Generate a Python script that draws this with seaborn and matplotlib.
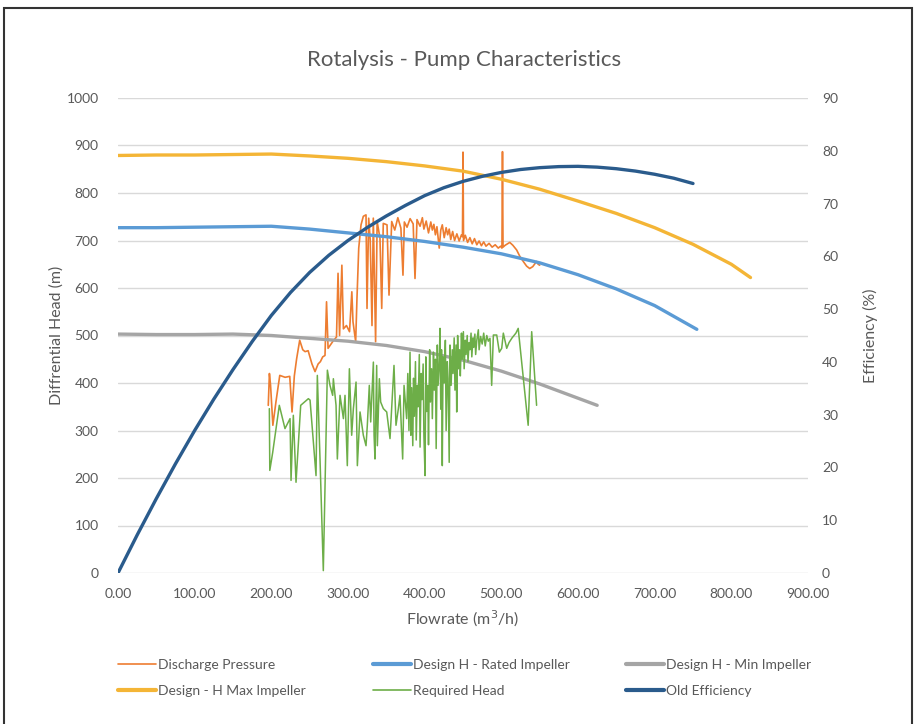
import matplotlib
matplotlib.use("Agg")
import pandas as pd
import seaborn as sns
import matplotlib.pyplot as plt
from matplotlib.patches import Rectangle
from matplotlib.lines import Line2D

# --- data ---
max_flow = [0, 50, 100, 150, 200, 250, 300, 350, 400, 450, 500, 550, 600, 650, 700, 750, 800, 825]
max_head = [879, 880, 880, 881, 882, 878, 873, 866, 857, 846, 829, 808, 783, 757, 727, 692, 650, 622]

rated_flow = [0, 50, 100, 150, 200, 250, 300, 350, 400, 450, 500, 550, 600, 650, 700, 755]
rated_head = [727, 727, 728, 729, 730, 724, 716, 708, 698, 686, 672, 653, 628, 598, 563, 513]

min_flow = [0, 50, 100, 150, 200, 250, 300, 350, 400, 450, 500, 550, 600, 625]
min_head = [503, 502, 502, 503, 500, 494, 488, 479, 466, 448, 425, 398, 368, 353]

eff_flow = [0, 25, 50, 75, 100, 125, 150, 175, 200, 225,
            250, 275, 300, 325, 350, 375, 400, 425, 450, 475,
            500, 525, 550, 575, 600, 625, 650, 675, 700, 725, 750]
eff_pct = [0, 7.2, 14.1, 20.7, 27.0, 32.95, 38.55, 43.85, 48.8, 53.15,
           56.95, 60.2, 63.0, 65.45, 67.65, 69.65, 71.5, 73.0, 74.2, 75.15,
           75.9, 76.45, 76.8, 77.0, 77.05, 76.9, 76.6, 76.15, 75.55, 74.8, 73.8]

discharge_flow = [196, 197.5, 199, 202, 206, 211, 218, 224, 227, 230,
                  233, 237, 241, 244, 248, 253, 257, 261, 264, 267,
                  270, 272, 274, 280, 285, 287, 289, 292, 294, 298,
                  302, 305, 306.5, 310, 311.7, 314, 317, 320, 323.5, 324.8,
                  327, 329, 331.3, 333, 336, 338, 341.7, 344, 346, 350.9,
                  353.5, 357, 361, 365, 369, 371.7, 373.5, 377, 381, 385,
                  387.4, 390, 394, 397, 399, 402, 405, 408, 410, 412,
                  414, 416, 419, 421, 423, 425.5, 428, 430, 432, 434,
                  436.5, 439, 442, 445, 448, 449.3, 450, 450.7, 453, 456,
                  459, 462, 465, 468, 471, 474, 477, 480, 484, 488,
                  492, 496, 499, 500.8, 501.5, 502.2, 505, 511, 515, 520,
                  524, 529, 533, 537, 541, 546, 548, 550]
discharge_head = [353, 420, 395, 311, 360, 416, 412, 414, 339, 415,
                  451, 490, 470, 466, 468, 440, 424, 440, 445, 455,
                  458, 571, 473, 487, 497, 631, 500, 648, 514, 521,
                  508, 592, 529, 487, 578, 684, 733, 751, 754, 557,
                  747, 700, 521, 747, 487, 740, 705, 557, 736, 733,
                  585, 740, 722, 748, 726, 627, 739, 728, 746, 735,
                  620, 744, 730, 748, 724, 741, 716, 739, 722, 734,
                  712, 729, 684, 722, 733, 706, 727, 712, 724, 702,
                  719, 700, 714, 699, 712, 708, 886, 700, 711, 696,
                  706, 693, 704, 691, 699, 689, 697, 688, 694, 686,
                  691, 684, 688, 684, 887, 686, 690, 696, 690, 680,
                  667, 655, 646, 641, 645, 656, 650, 648]

required_flow = [197.4, 198, 201.8, 210.4, 217.8, 224.4, 225.7, 228.7, 232.2, 238.3,
                 248.3, 250.5, 258.3, 260, 263.5, 267.8, 273.1, 276.5, 280, 280.9,
                 284.4, 286.1, 289.6, 294, 296.1, 299.1, 301.8, 304.8, 307, 310.5,
                 312.2, 315.7, 320, 323.5, 325.2, 327.8, 329.6, 333.1, 334, 335.2,
                 337.4, 338.3, 340.9, 342.6, 346.1, 350.5, 352.6, 354.8, 358.3, 360,
                 362.6, 365.7, 367.8, 371.3, 373.1, 376.5, 378, 379.5, 380.9, 382,
                 383.1, 384.5, 385.5, 386.5, 388, 389, 390.5, 391.5, 393, 394,
                 395.5, 396.5, 398, 399, 400.5, 401.5, 402.5, 404, 405, 406.5,
                 407.5, 409, 410, 411.5, 412.5, 414, 415, 416.5, 417.5, 419,
                 420, 421, 422, 423, 424, 425.5, 427, 428, 429.5, 430.5,
                 432, 433, 434.5, 436, 437, 438.5, 439.5, 441, 441.8, 443,
                 444, 445.5, 446.5, 448, 449, 450.5, 451.5, 453, 454, 455.5,
                 456.5, 458, 459, 460.5, 461.5, 463, 464, 465.5, 466.5, 468,
                 470, 471, 473, 475, 477, 479, 481, 483, 485.2, 487.4,
                 489.6, 494, 497.4, 500.5, 502.6, 507, 510, 514, 519, 522,
                 535, 539.6, 546]
required_head = [346, 216, 254, 353, 304, 325, 195, 332, 191, 353,
                 367, 364, 205, 416, 240, 5, 427, 395, 374, 409,
                 353, 240, 374, 325, 374, 226, 430, 290, 346, 402,
                 226, 339, 290, 268, 311, 395, 318, 444, 290, 240,
                 437, 268, 409, 360, 346, 339, 311, 283, 388, 437,
                 311, 346, 374, 240, 395, 325, 420, 300, 465, 290,
                 390, 268, 410, 330, 445, 280, 395, 350, 460, 265,
                 420, 365, 440, 290, 205, 455, 340, 395, 270, 470,
                 360, 430, 325, 465, 385, 450, 262, 480, 395, 440,
                 515, 345, 470, 226, 455, 400, 490, 300, 445, 410,
                 233, 480, 395, 470, 420, 495, 385, 480, 339, 500,
                 430, 470, 415, 505, 450, 508, 430, 490, 460, 500,
                 445, 485, 470, 505, 455, 495, 475, 503, 460, 490,
                 512, 470, 498, 482, 505, 478, 500, 488, 494, 395,
                 501, 501, 465, 473, 505, 473, 485, 495, 505, 515,
                 311, 508, 353]

flow_ticks = [0, 100, 200, 300, 400, 500, 600, 700, 800, 900]
head_ticks = [0, 100, 200, 300, 400, 500, 600, 700, 800, 900, 1000]
eff_ticks = [0, 10, 20, 30, 40, 50, 60, 70, 80, 90]

c_orange = "#ED7D31"
c_blue = "#5B9BD5"
c_gray = "#A5A5A5"
c_gold = "#F4B536"
c_green = "#6DAE48"
c_navy = "#2A5B8C"
txt = "#595959"

sns.set_style("white")
plt.rcParams["font.family"] = ["Lato", "DejaVu Sans"]

fig = plt.figure(figsize=(9.15, 7.24), dpi=100)
ax = fig.add_axes([118 / 915, 1 - 573 / 724, 690 / 915, 475 / 724])
ax2 = ax.twinx()

series = [
    (ax, discharge_flow, discharge_head, c_orange, 1.2),
    (ax, rated_flow, rated_head, c_blue, 2.4),
    (ax, min_flow, min_head, c_gray, 2.4),
    (ax, max_flow, max_head, c_gold, 2.4),
    (ax, required_flow, required_head, c_green, 1.1),
    (ax2, eff_flow, eff_pct, c_navy, 2.4),
]
for target, xs, ys, col, lw in series:
    df = pd.DataFrame({"x": xs, "y": ys})
    sns.lineplot(data=df, x="x", y="y", ax=target, estimator=None, sort=False,
                 color=col, lw=lw, legend=False)

ax.set_xlim(0, 900)
ax.set_ylim(0, 1000)
ax2.set_ylim(0, 90)
ax.set_xticks(flow_ticks)
ax.set_xticklabels([f"{v:.2f}" for v in flow_ticks])
ax.set_yticks(head_ticks)
ax2.set_yticks(eff_ticks)
ax.yaxis.grid(True, color="#D9D9D9", lw=1.0)
ax.set_axisbelow(True)
for a in (ax, ax2):
    for s in a.spines.values():
        s.set_visible(False)
ax.tick_params(axis="both", length=0, labelsize=10, labelcolor=txt)
ax.tick_params(axis="x", pad=11)
ax.tick_params(axis="y", pad=14)
ax2.tick_params(axis="y", length=0, labelsize=10, labelcolor=txt, pad=10)

ax.set_xlabel("Flowrate (m$^3$/h)", fontsize=11.5, color=txt)
ax.set_ylabel("Diffrential Head (m)", fontsize=11.5, color=txt)
ax2.set_ylabel("Efficiency (%)", fontsize=11.5, color=txt)
ax.xaxis.set_label_coords(0.5, -0.075)
ax.yaxis.set_label_coords(-0.078, 0.5)
ax2.yaxis.set_label_coords(1.08, 0.5)

fig.text(464 / 915, 1 - 60 / 724, "Rotalysis - Pump Characteristics",
         ha="center", va="center", fontsize=16, color=txt)

legend_cols = [
    (118, [("Discharge Pressure", c_orange, 1.2), ("Design - H Max Impeller", c_gold, 3)]),
    (373, [("Design H - Rated Impeller", c_blue, 3), ("Required Head", c_green, 1.2)]),
    (626, [("Design H - Min Impeller", c_gray, 3), ("Old Efficiency", c_navy, 3)]),
]
for x0, entries in legend_cols:
    handles = [Line2D([], [], color=c, lw=w) for _, c, w in entries]
    labels = [n for n, _, _ in entries]
    fig.legend(handles, labels, loc="upper left", bbox_to_anchor=(x0 / 915, 1 - 659 / 724),
               frameon=False, fontsize=10, labelcolor=txt, handlelength=2.7,
               handletextpad=0.2, labelspacing=1.0, borderpad=0, borderaxespad=0)

fig.add_artist(Rectangle((4 / 915, -0.02), 908 / 915, 1 - 8 / 724 + 0.02,
                         transform=fig.transFigure, fill=False, lw=1.5, edgecolor="#333333"))

fig.savefig("out.png", dpi=100)
